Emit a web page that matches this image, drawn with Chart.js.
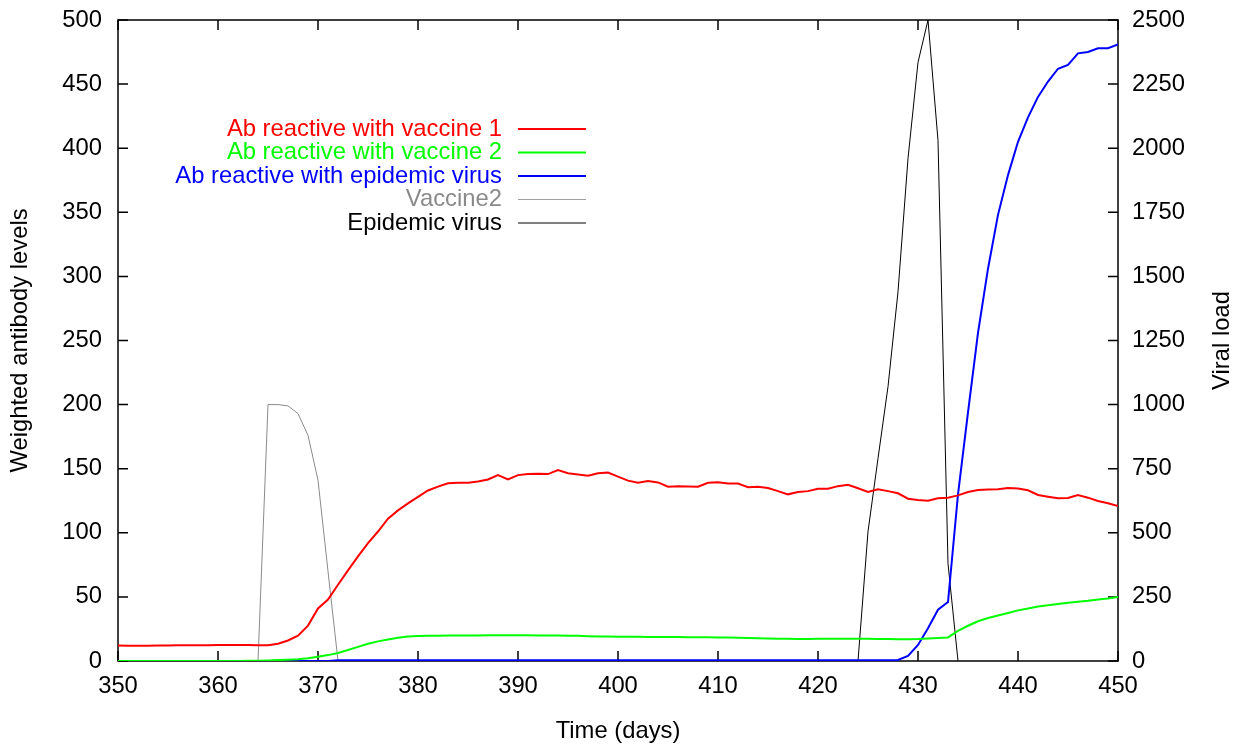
<!DOCTYPE html>
<html>
<head>
<meta charset="utf-8">
<script src="https://cdn.jsdelivr.net/npm/chart.js@4"></script>
<style>
  html, body { margin: 0; padding: 0; background: #fff; }
</style>
</head>
<body>
<canvas id="chart" width="1244" height="750"></canvas>
<script>
// days 350..450, one value per day
const days = [];
for (let d = 350; d <= 450; d++) days.push(d);

const xTicks = { min: 350, max: 450, step: 10 };
const leftTicks = { min: 0, max: 500, step: 50 };
const rightTicks = { min: 0, max: 2500, step: 250 };

// Ab reactive with vaccine 1 (left axis)
const vaccine1Ab = [
  12.0, 11.9, 11.8, 11.9, 12.0, 12.1, 12.2, 12.3, 12.2, 12.3,
  12.4, 12.4, 12.5, 12.4, 12.3, 12.2, 13.5, 16.0, 19.8, 27.6,
  41.0, 48.0, 59.5, 70.7, 81.6, 92.0, 101.0, 111.0, 117.5, 123.0,
  128.0, 133.0, 136.0, 138.6, 139.0, 139.0, 140.0, 141.6, 145.0, 141.6,
  145.0, 145.8, 146.0, 145.8, 149.0, 146.4, 145.5, 144.6, 146.4, 147.0,
  143.8, 140.7, 139.0, 140.4, 139.3, 135.9, 136.4, 136.2, 136.0, 139.0,
  139.5, 138.5, 138.5, 135.6, 136.0, 135.0, 132.5, 130.0, 131.8, 132.5,
  134.4, 134.4, 136.4, 137.4, 134.7, 131.8, 133.9, 132.5, 130.8, 126.6,
  125.6, 125.0, 126.9, 127.4, 129.2, 131.8, 133.4, 133.7, 133.9, 135.0,
  134.5, 133.2, 129.5, 128.2, 127.0, 127.2, 129.5, 127.4, 124.8, 123.0,
  120.9
];

// Ab reactive with vaccine 2 (left axis)
const vaccine2Ab = [
  0, 0, 0, 0, 0, 0, 0, 0, 0, 0,
  0, 0, 0, 0.1, 0.2, 0.4, 0.7, 1.0, 1.4, 2.2,
  3.4, 4.6, 6.3, 8.6, 11.0, 13.5, 15.3, 16.8, 18.2, 19.2,
  19.5, 19.6, 19.7, 19.8, 19.8, 19.8, 19.9, 20.0, 20.0, 20.0,
  20.0, 20.0, 19.9, 19.9, 19.8, 19.7, 19.6, 19.4, 19.2, 19.1,
  19.0, 18.9, 18.9, 18.8, 18.8, 18.7, 18.7, 18.6, 18.5, 18.5,
  18.4, 18.3, 18.2, 18.0, 17.8, 17.6, 17.4, 17.3, 17.2, 17.2,
  17.3, 17.3, 17.4, 17.4, 17.3, 17.3, 17.2, 17.1, 17.0, 16.9,
  17.1, 17.6, 18.0, 18.4, 23.5, 27.5, 31.0, 33.5, 35.5, 37.5,
  39.5, 41.0, 42.5, 43.5, 44.5, 45.5, 46.3, 47.0, 48.0, 48.8,
  50.0
];

// Ab reactive with epidemic virus (left axis)
const epidemicAb = [
  0, 0, 0, 0, 0, 0, 0, 0, 0, 0,
  0, 0, 0, 0, 0, 0, 0, 0, 0, 0,
  0, 0, 0.5, 0.5, 0.5, 0.5, 0.5, 0.5, 0.5, 0.5,
  0.5, 0.5, 0.5, 0.5, 0.5, 0.5, 0.5, 0.5, 0.5, 0.5,
  0.5, 0.5, 0.5, 0.5, 0.5, 0.5, 0.5, 0.5, 0.5, 0.5,
  0.5, 0.5, 0.5, 0.5, 0.5, 0.5, 0.5, 0.5, 0.5, 0.5,
  0.5, 0.5, 0.5, 0.5, 0.5, 0.5, 0.5, 0.5, 0.5, 0.5,
  0.5, 0.5, 0.5, 0.5, 0.5, 0.5, 0.5, 0.5, 0.8, 4.0,
  12.5, 25.5, 40.0, 46.0, 130.0, 194.0, 256.0, 306.0, 348.0, 379.0,
  405.0, 424.0, 440.0, 452.0, 462.0, 465.0, 474.0, 475.0, 478.0, 478.0,
  481.0
];

// Vaccine2 (viral load axis), only days 364..372
const vaccine2Days = [364, 365, 366, 367, 368, 369, 370, 371, 372];
const vaccine2Load = [0, 1000, 1000, 995, 965, 880, 705, 350, 0];

// Epidemic virus (viral load axis), only days 424..434
const epidemicDays = [424, 425, 426, 427, 428, 429, 430, 431, 432, 433, 434];
const epidemicLoad = [0, 505, 790, 1070, 1440, 1960, 2335, 2500, 2030, 380, 0];

const FONT = '"Liberation Sans", Arial, sans-serif';
const FSIZE = 23.8;

function pts(xs, ys) {
  return xs.map((x, i) => ({ x: x, y: ys[i] }));
}

// frame + gnuplot style inward ticks
const frameTicks = {
  id: 'frameTicks',
  beforeDatasetsDraw(chart) {
    const { ctx, chartArea: a, scales } = chart;
    ctx.save();
    ctx.strokeStyle = '#000';
    ctx.lineWidth = 1.5;
    ctx.strokeRect(a.left, a.top, a.right - a.left, a.bottom - a.top);
    ctx.beginPath();
    scales.x.ticks.forEach(t => {
      const p = scales.x.getPixelForValue(t.value);
      ctx.moveTo(p, a.bottom); ctx.lineTo(p, a.bottom - 10);
      ctx.moveTo(p, a.top); ctx.lineTo(p, a.top + 10);
    });
    scales.y.ticks.forEach(t => {
      const p = scales.y.getPixelForValue(t.value);
      ctx.moveTo(a.left, p); ctx.lineTo(a.left + 10, p);
    });
    scales.y2.ticks.forEach(t => {
      const p = scales.y2.getPixelForValue(t.value);
      ctx.moveTo(a.right, p); ctx.lineTo(a.right - 10, p);
    });
    ctx.stroke();
    ctx.restore();
  }
};

// legend inside the plot: text right aligned, sample line on its right
const keyLegend = {
  id: 'keyLegend',
  afterDraw(chart) {
    const { ctx, chartArea: a } = chart;
    ctx.save();
    ctx.font = FSIZE + 'px ' + FONT;
    ctx.textAlign = 'right';
    ctx.textBaseline = 'middle';
    chart.data.datasets.forEach((ds, i) => {
      const y = 129 + i * 23.5;
      ctx.fillStyle = ds.keyColor;
      ctx.fillText(ds.label, 502, y);
      ctx.strokeStyle = ds.keyLine || ds.borderColor;
      ctx.lineWidth = ds.borderWidth;
      ctx.beginPath();
      ctx.moveTo(518, y);
      ctx.lineTo(586, y);
      ctx.stroke();
    });
    // right axis title reads bottom to top
    ctx.translate(1222, (a.top + a.bottom) / 2);
    ctx.rotate(-Math.PI / 2);
    ctx.textAlign = 'center';
    ctx.fillStyle = '#000';
    ctx.fillText('Viral load', 0, 0);
    ctx.restore();
  }
};

// fixed box sizes so the plot area sits where the original has it
function fixWidth(w) {
  return s => { s.width = w; s.paddingTop = 0; s.paddingBottom = 0; };
}

Chart.defaults.font.family = FONT;
Chart.defaults.font.size = FSIZE;
Chart.defaults.color = '#000';

new Chart(document.getElementById('chart'), {
  type: 'line',
  data: {
    datasets: [
      { label: 'Ab reactive with vaccine 1', data: pts(days, vaccine1Ab), yAxisID: 'y',
        borderColor: '#ff0000', keyColor: '#ff0000', borderWidth: 2 },
      { label: 'Ab reactive with vaccine 2', data: pts(days, vaccine2Ab), yAxisID: 'y',
        borderColor: '#00ff00', keyColor: '#00ff00', borderWidth: 2 },
      { label: 'Ab reactive with epidemic virus', data: pts(days, epidemicAb), yAxisID: 'y',
        borderColor: '#0000ff', keyColor: '#0000ff', borderWidth: 2 },
      { label: 'Vaccine2', data: pts(vaccine2Days, vaccine2Load), yAxisID: 'y2',
        borderColor: '#8a8a8a', keyColor: '#8a8a8a', keyLine: '#a0a0a0', borderWidth: 1 },
      { label: 'Epidemic virus', data: pts(epidemicDays, epidemicLoad), yAxisID: 'y2',
        borderColor: '#000000', keyColor: '#000000', borderWidth: 1 }
    ]
  },
  options: {
    responsive: false,
    animation: false,
    devicePixelRatio: 1,
    layout: { padding: { top: 20, left: 0, right: 0, bottom: 0 } },
    elements: { point: { radius: 0 }, line: { tension: 0, fill: false } },
    plugins: { legend: { display: false }, tooltip: { enabled: false } },
    scales: {
      x: {
        type: 'linear', min: xTicks.min, max: xTicks.max,
        ticks: { stepSize: xTicks.step, padding: 11, maxRotation: 0 },
        grid: { display: false, drawTicks: false },
        border: { display: false },
        title: { display: true, text: 'Time (days)', padding: { top: 0, bottom: 4 } },
        afterFit(s) { s.height = 89; s.paddingLeft = 0; s.paddingRight = 0; }
      },
      y: {
        position: 'left', min: leftTicks.min, max: leftTicks.max,
        ticks: { stepSize: leftTicks.step, padding: 16 },
        grid: { display: false, drawTicks: false },
        border: { display: false },
        title: { display: true, text: 'Weighted antibody levels', padding: { top: 6, bottom: 0 } },
        afterFit: fixWidth(118)
      },
      y2: {
        position: 'right', min: rightTicks.min, max: rightTicks.max,
        ticks: { stepSize: rightTicks.step, padding: 14, callback: v => String(v) },
        grid: { display: false, drawTicks: false },
        border: { display: false },
        afterFit: fixWidth(126)
      }
    }
  },
  plugins: [frameTicks, keyLegend]
});
</script>
</body>
</html>
